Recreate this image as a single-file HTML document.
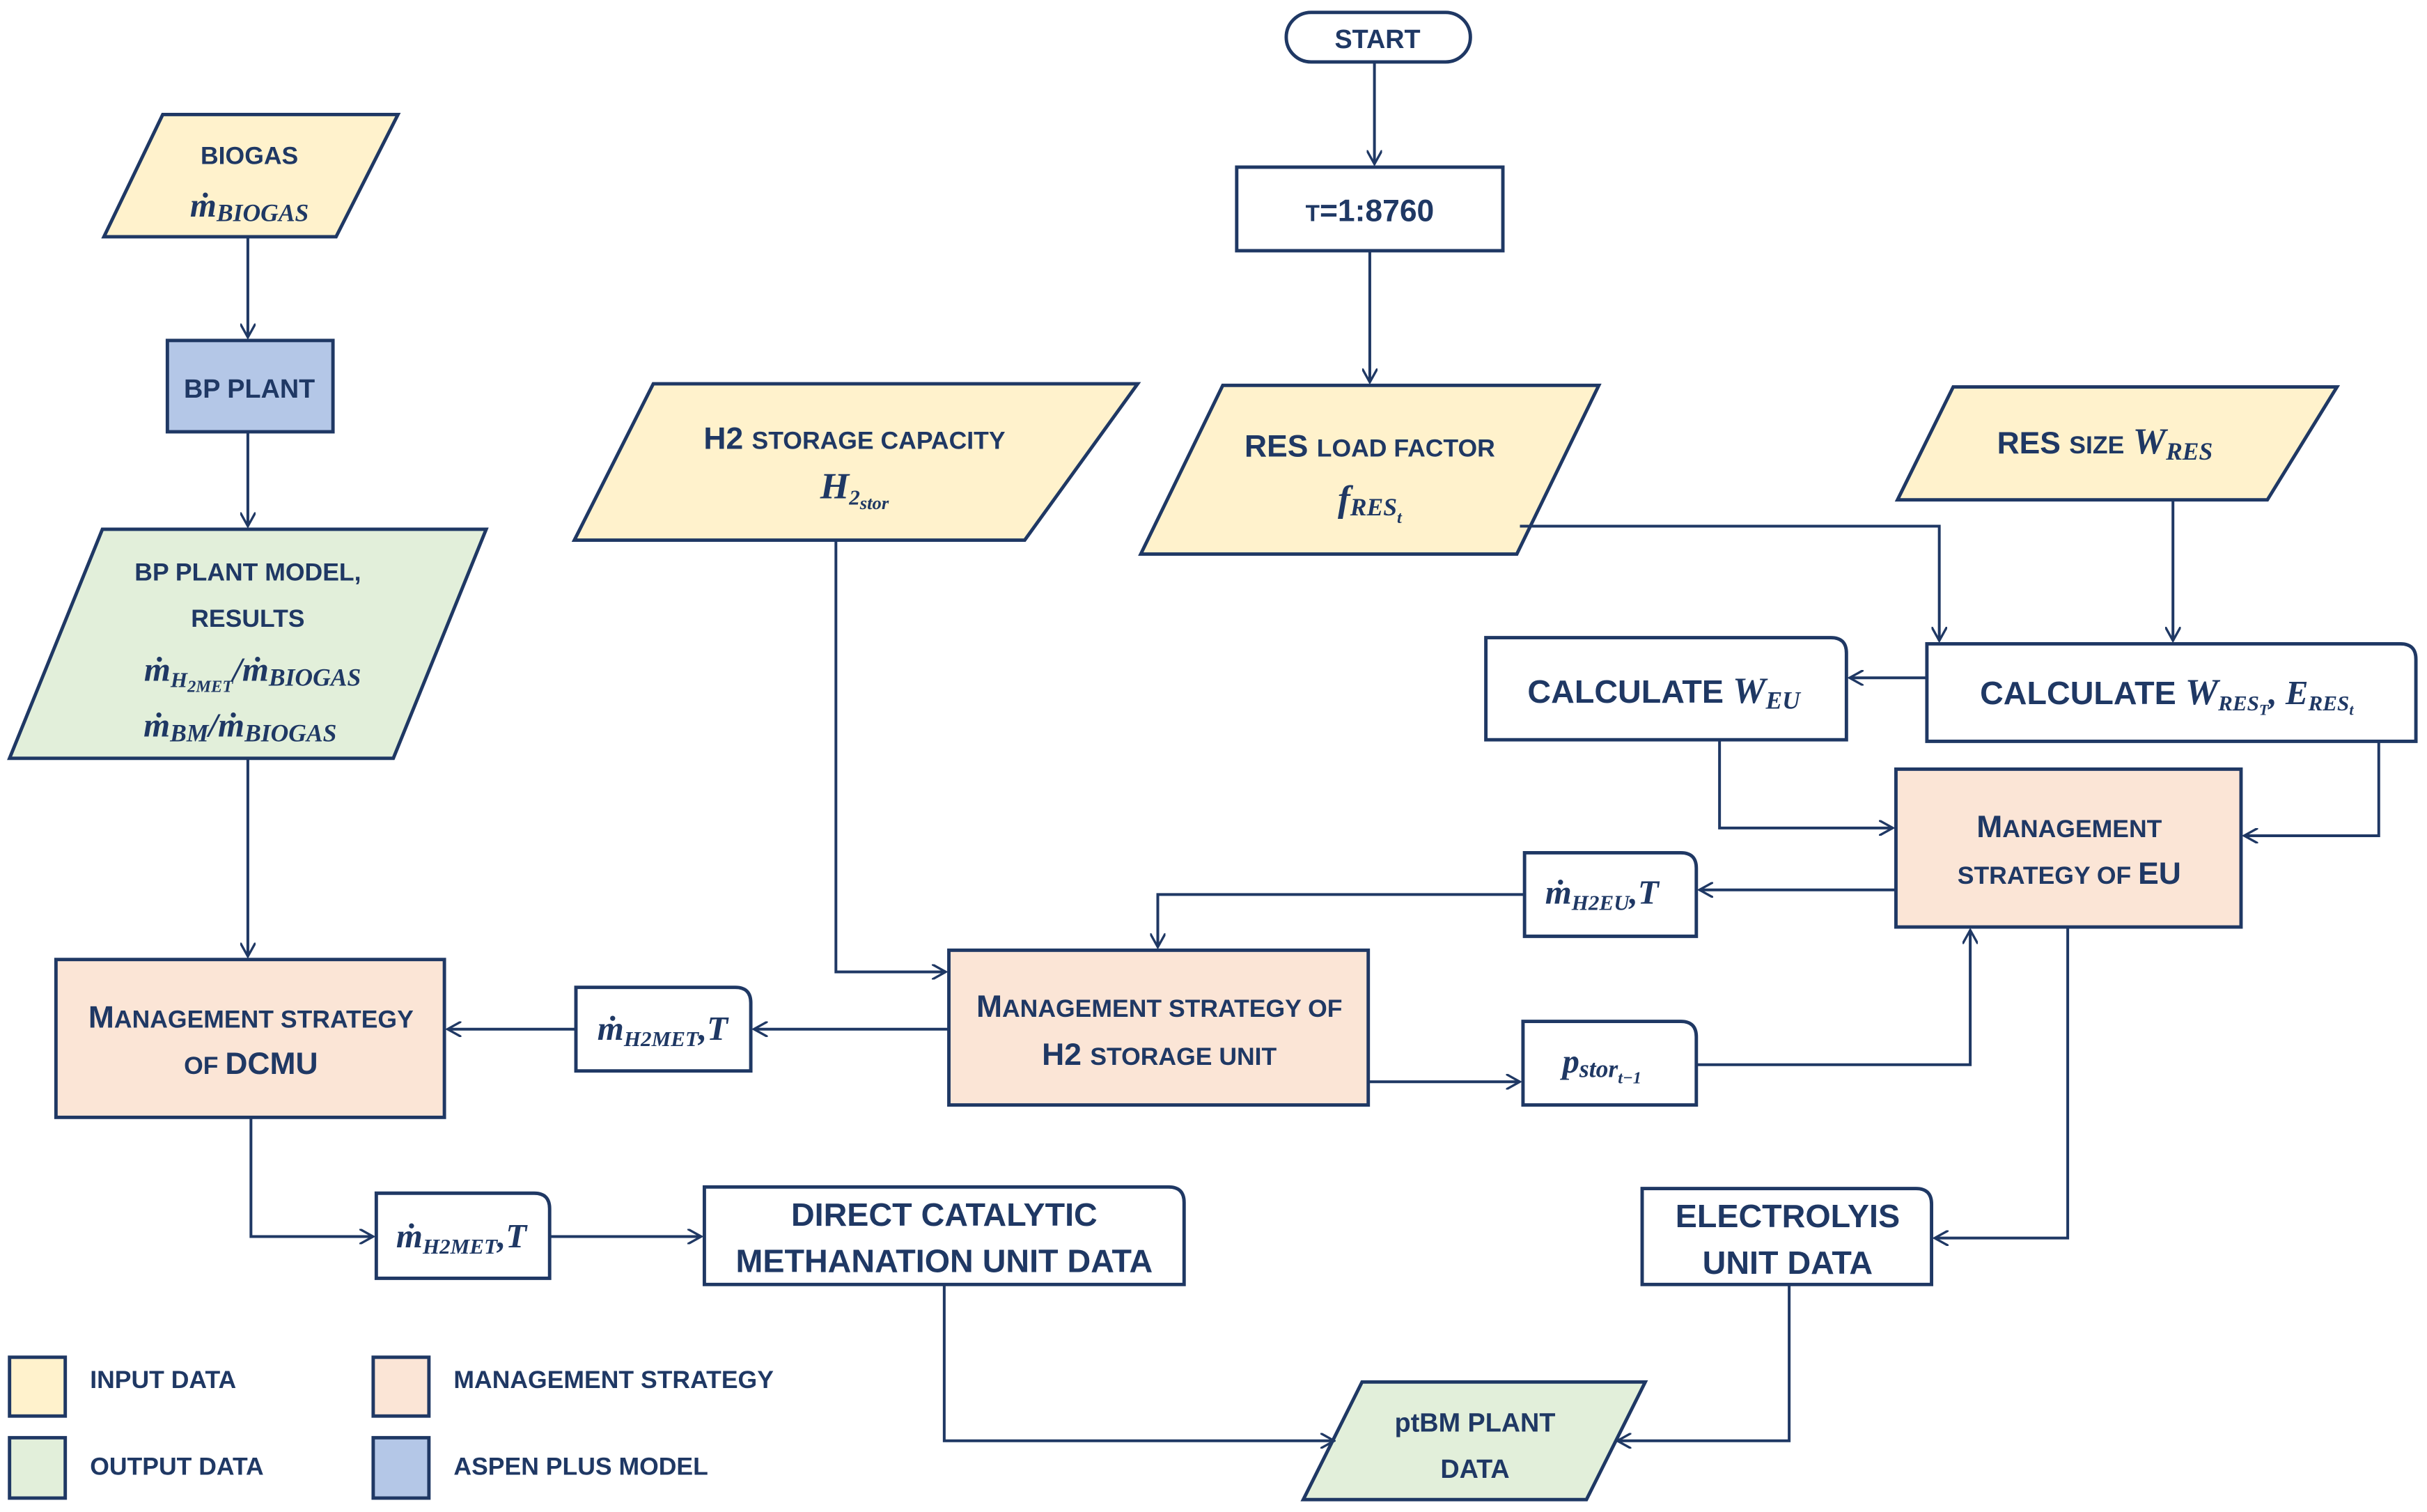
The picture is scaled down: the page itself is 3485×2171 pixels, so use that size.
<!DOCTYPE html>
<html><head><meta charset="utf-8"><style>
html,body{margin:0;padding:0;background:#fff}
svg{display:block}
.s{font-family:"Liberation Sans",sans-serif;font-weight:bold;fill:#1F3864}
.m{font-family:"Liberation Serif",serif;font-weight:bold;font-style:italic;fill:#1F3864}
</style></head><body>
<svg width="3485" height="2171" viewBox="0 0 1568 977" xmlns="http://www.w3.org/2000/svg">
<defs>
<marker id="a" markerWidth="10" markerHeight="10" refX="9" refY="5" orient="auto" markerUnits="userSpaceOnUse">
<path d="M0,0 L9,5 L0,10" fill="none" stroke="#1F3864" stroke-width="1.5"/></marker>
</defs>
<g stroke="#1F3864" stroke-width="2.2">
<!-- shapes -->
<rect x="831" y="8" width="119" height="32" rx="16" fill="#fff"/>
<rect x="799" y="108" width="172" height="54" fill="#fff"/>
<polygon points="737,358 790,249 1033,249 980,358" fill="#FFF2CC"/>
<polygon points="1226,323 1262,250 1510,250 1465,323" fill="#FFF2CC"/>
<polygon points="371,349 422,248 735,248 662,349" fill="#FFF2CC"/>
<polygon points="67,153 105,74 257,74 217,153" fill="#FFF2CC"/>
<rect x="108" y="220" width="107" height="59" fill="#B4C7E7"/>
<polygon points="6,490 66,342 314,342 254,490" fill="#E2EFDA"/>
<path d="M960,412 H1183 Q1193,412 1193,422 V478 H960 Z" fill="#fff"/>
<path d="M1245,416 H1551 Q1561,416 1561,426 V479 H1245 Z" fill="#fff"/>
<rect x="1225" y="497" width="223" height="102" fill="#FBE5D6"/>
<path d="M985,551 H1086 Q1096,551 1096,561 V605 H985 Z" fill="#fff"/>
<rect x="613" y="614" width="271" height="100" fill="#FBE5D6"/>
<path d="M372,638 H475 Q485,638 485,648 V692 H372 Z" fill="#fff"/>
<path d="M984,660 H1086 Q1096,660 1096,670 V714 H984 Z" fill="#fff"/>
<rect x="36" y="620" width="251" height="102" fill="#FBE5D6"/>
<path d="M243,771 H345 Q355,771 355,781 V826 H243 Z" fill="#fff"/>
<path d="M455,767 H755 Q765,767 765,777 V830 H455 Z" fill="#fff"/>
<path d="M1061,768 H1238 Q1248,768 1248,778 V830 H1061 Z" fill="#fff"/>
<polygon points="842,969 880,893 1063,893 1025,969" fill="#E2EFDA"/>
<rect x="6" y="877" width="36" height="38" fill="#FFF2CC"/>
<rect x="6" y="929" width="36" height="39" fill="#E2EFDA"/>
<rect x="241" y="877" width="36" height="38" fill="#FBE5D6"/>
<rect x="241" y="929" width="36" height="39" fill="#B4C7E7"/>
</g>
<g stroke="#1F3864" stroke-width="1.8" fill="none" marker-end="url(#a)">
<path d="M888,40 V106"/>
<path d="M885,162 V247"/>
<path d="M982,340 H1253 V414"/>
<path d="M1404,323 V414"/>
<path d="M1245,438 H1195"/>
<path d="M1111,478 V535 H1223"/>
<path d="M1537,479 V540 H1450"/>
<path d="M1225,575 H1098"/>
<path d="M985,578 H748 V612"/>
<path d="M540,349 V628 H611"/>
<path d="M613,665 H487"/>
<path d="M372,665 H289"/>
<path d="M884,699 H982"/>
<path d="M1096,688 H1273 V601"/>
<path d="M1336,599 V800 H1250"/>
<path d="M160,153 V218"/>
<path d="M160,279 V340"/>
<path d="M160,490 V618"/>
<path d="M162,722 V799 H241"/>
<path d="M355,799 H453"/>
<path d="M610,830 V931 H862"/>
<path d="M1156,830 V931 H1045"/>
</g>
<g text-anchor="middle">
<text x="890" y="31" class="s" font-size="17">START</text>
<text x="885" y="143" class="s" font-size="20"><tspan font-size="15">T</tspan>=1:8760</text>
<text x="885" y="295" class="s" font-size="20">RES <tspan font-size="16">LOAD FACTOR</tspan></text>
<text x="885" y="330" class="m" font-size="24">f<tspan font-size="16" dy="3">RES</tspan><tspan font-size="11" dy="5">t</tspan></text>
<text x="1360" y="293" class="s" font-size="20">RES <tspan font-size="16">SIZE</tspan> <tspan class="m" font-size="24">W</tspan><tspan class="m" font-size="16" dy="4">RES</tspan></text>
<text x="552" y="290" class="s" font-size="20">H2 <tspan font-size="16">STORAGE CAPACITY</tspan></text>
<text x="552" y="322" class="m" font-size="24">H<tspan font-size="14" dy="4">2</tspan><tspan font-size="12" dy="3">stor</tspan></text>
<text x="161" y="106" class="s" font-size="16">BIOGAS</text>
<text x="161" y="140" class="m" font-size="22">ṁ<tspan font-size="16" dy="3">BIOGAS</tspan></text>
<text x="161" y="257" class="s" font-size="17">BP PLANT</text>
<text x="160" y="375" class="s" font-size="16">BP  PLANT MODEL,</text>
<text x="160" y="405" class="s" font-size="16">RESULTS</text>
<text x="163" y="440" class="m" font-size="22">ṁ<tspan font-size="14" dy="4">H</tspan><tspan font-size="11" dy="3">2MET</tspan><tspan dy="-7">/ṁ</tspan><tspan font-size="16" dy="3">BIOGAS</tspan></text>
<text x="155" y="476" class="m" font-size="22">ṁ<tspan font-size="16" dy="3">BM</tspan><tspan dy="-3">/ṁ</tspan><tspan font-size="16" dy="3">BIOGAS</tspan></text>
<text x="1075" y="454" class="s" font-size="21">CALCULATE <tspan class="m" font-size="24">W</tspan><tspan class="m" font-size="16" dy="4">EU</tspan></text>
<text x="1400" y="455" class="s" font-size="21">CALCULATE <tspan class="m" font-size="24">W</tspan><tspan class="m" font-size="14" dy="4">RES</tspan><tspan class="m" font-size="10" dy="3">T</tspan><tspan class="m" font-size="22" dy="-7">, E</tspan><tspan class="m" font-size="14" dy="4">RES</tspan><tspan class="m" font-size="10" dy="3">t</tspan></text>
<text x="1337" y="541" class="s" font-size="20">M<tspan font-size="16">ANAGEMENT</tspan></text>
<text x="1337" y="571" class="s" font-size="16">STRATEGY OF <tspan font-size="20">EU</tspan></text>
<text x="1035" y="584" class="m" font-size="22">ṁ<tspan font-size="14" dy="4">H2EU</tspan><tspan dy="-4">,T</tspan></text>
<text x="749" y="657" class="s" font-size="20">M<tspan font-size="16">ANAGEMENT  STRATEGY OF</tspan></text>
<text x="749" y="688" class="s" font-size="20">H2 <tspan font-size="16">STORAGE UNIT</tspan></text>
<text x="428" y="672" class="m" font-size="22">ṁ<tspan font-size="14" dy="4">H2MET</tspan><tspan dy="-4">,T</tspan></text>
<text x="1035" y="693" class="m" font-size="22">p<tspan font-size="16" dy="3">stor</tspan><tspan font-size="11" dy="4">t−1</tspan></text>
<text x="162" y="664" class="s" font-size="20">M<tspan font-size="16">ANAGEMENT  STRATEGY</tspan></text>
<text x="162" y="694" class="s" font-size="16">OF <tspan font-size="20">DCMU</tspan></text>
<text x="298" y="806" class="m" font-size="22">ṁ<tspan font-size="14" dy="4">H2MET</tspan><tspan dy="-4">,T</tspan></text>
<text x="610" y="792" class="s" font-size="21">DIRECT CATALYTIC</text>
<text x="610" y="822" class="s" font-size="21">METHANATION  UNIT DATA</text>
<text x="1155" y="793" class="s" font-size="21">ELECTROLYIS</text>
<text x="1155" y="823" class="s" font-size="21">UNIT DATA</text>
<text x="953" y="925" class="s" font-size="17">ptBM PLANT</text>
<text x="953" y="955" class="s" font-size="17">DATA</text>
</g>
<g class="s" font-size="16">
<text x="58" y="897" class="s">INPUT DATA</text>
<text x="58" y="953" class="s">OUTPUT DATA</text>
<text x="293" y="897" class="s">MANAGEMENT STRATEGY</text>
<text x="293" y="953" class="s">ASPEN PLUS MODEL</text>
</g>
</svg>
</body></html>
